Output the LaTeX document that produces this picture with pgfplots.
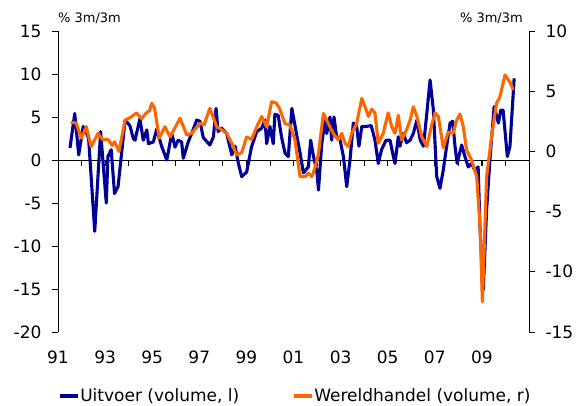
\documentclass[border=0pt]{standalone}
\usepackage{pgfplots}
\pgfplotsset{compat=1.18}
\usepackage{fontspec}
\setmainfont{DejaVu Sans}
\definecolor{navy}{RGB}{0,0,153}
\definecolor{orng}{RGB}{255,102,0}
\begin{document}
\begin{tikzpicture}
\path[use as bounding box] (-58pt,-74pt) rectangle (521pt,332pt);
\begin{axis}[
  name=ax1,
  at={(0pt,0pt)}, anchor=south west,
  scale only axis, width=471pt, height=301pt,
  xmin=1991, xmax=2011, ymin=-20, ymax=15,
  axis x line*=middle, axis y line*=left,
  xtick={1992,...,2010}, xticklabels={},
  tick align=center, major tick length=6pt,
  every tick/.style={black, line width=0.8pt},
  xtick style={yshift=-3pt},
  ytick style={xshift=-3pt},
  ytick={-20,-15,...,15},
  yticklabels={-20,-15,-10,-5,0,5,10,15},
  axis line style={black, line width=0.9pt},
  tick label style={font=\fontsize{17}{19}\selectfont},
  yticklabel style={anchor=east, xshift=-10pt},
]
\addplot[ycomb, black, line width=0.8pt, mark=none] coordinates {
(1992,-0.7) (1993,-0.7) (1994,-0.7) (1995,-0.7) (1996,-0.7) (1997,-0.7) (1998,-0.7)
(1999,-0.7) (2000,-0.7) (2001,-0.7) (2002,-0.7) (2003,-0.7) (2004,-0.7) (2005,-0.7)
(2006,-0.7) (2007,-0.7) (2008,-0.7) (2009,-0.7) (2010,-0.7)
};
\addplot[navy, line width=3.1pt, line join=round] coordinates {
(1991.51,1.4) (1991.71,5.4) (1991.88,0.6) (1992.07,3.9) (1992.22,3.1) (1992.30,2.5)
(1992.56,-8.3) (1992.81,3.3) (1993.05,-5.0) (1993.12,0.4) (1993.26,1.2) (1993.40,-3.9)
(1993.55,-3.1) (1993.85,4.65) (1994.05,4.0) (1994.20,2.5) (1994.27,2.3) (1994.48,4.8)
(1994.62,2.3) (1994.77,3.5) (1994.84,1.9) (1995.05,2.1) (1995.19,3.6) (1995.40,1.6)
(1995.62,0.0) (1995.83,3.1) (1995.97,1.5) (1996.10,2.3) (1996.25,2.1) (1996.32,0.2)
(1996.53,2.1) (1996.68,3.1) (1996.89,4.65) (1997.03,4.5) (1997.17,2.6) (1997.45,1.74)
(1997.60,2.7) (1997.71,6.0) (1997.80,3.3) (1997.95,3.7) (1998.16,3.1) (1998.38,0.6)
(1998.52,1.6) (1998.66,-0.4) (1998.80,-1.94) (1999.01,-1.4) (1999.22,1.55) (1999.44,3.3)
(1999.65,3.7) (1999.79,4.65) (1999.86,1.9) (2000.00,3.9) (2000.14,1.9) (2000.21,5.3)
(2000.35,5.2) (2000.49,2.7) (2000.64,0.8) (2000.78,0.4) (2000.93,6.0) (2001.13,3.0)
(2001.28,0.8) (2001.42,-1.5) (2001.63,-0.8) (2001.73,2.3) (2001.85,0.4) (2001.99,-1.3)
(2002.06,-3.5) (2002.20,1.9) (2002.34,4.65) (2002.41,3.1) (2002.55,5.0) (2002.62,2.3)
(2002.72,5.0) (2002.83,2.7) (2002.98,2.3) (2003.12,0.4) (2003.26,-3.1) (2003.40,0.0)
(2003.54,4.3) (2003.68,3.9) (2003.78,1.6) (2003.90,3.9) (2004.10,3.9) (2004.30,4.0)
(2004.46,2.3) (2004.60,-0.4) (2004.74,1.2) (2004.93,2.3) (2005.10,2.3) (2005.21,0.8)
(2005.31,-0.4) (2005.45,2.7) (2005.52,1.6) (2005.66,3.1) (2005.80,2.0) (2005.95,2.3)
(2006.09,3.1) (2006.24,4.65) (2006.38,2.3) (2006.52,1.6) (2006.66,5.4) (2006.80,9.3)
(2006.94,5.8) (2007.08,-1.9) (2007.22,-3.3) (2007.36,-1.16) (2007.50,1.55) (2007.65,4.3)
(2007.76,4.5) (2007.86,1.55) (2007.95,-0.4) (2008.14,1.74) (2008.28,0.4) (2008.42,-0.8)
(2008.56,-0.4) (2008.70,-1.2) (2008.84,-0.8) (2008.92,-7.8) (2009.06,-15.1) (2009.20,-5.8)
(2009.34,0.0) (2009.52,6.2) (2009.70,4.3) (2009.80,5.8) (2009.90,5.8) (2010.08,0.4)
(2010.19,1.55) (2010.37,9.5)
};
\end{axis}
\begin{axis}[
  name=ax2,
  at={(0pt,0pt)}, anchor=south west,
  scale only axis, width=471pt, height=301pt,
  xmin=1991, xmax=2011, ymin=-15, ymax=10,
  axis x line*=bottom, axis y line*=right,
  x axis line style={draw=none},
  xtick={1991,1993,...,2009},
  xticklabels={91,93,95,97,99,01,03,05,07,09},
  tick align=center, major tick length=6pt,
  every tick/.style={black, line width=0.8pt},
  xtick style={draw=none},
  ytick style={xshift=3pt},
  ytick={-15,-10,...,10},
  yticklabels={-15,-10,-5,0,5,10},
  y axis line style={black, line width=0.9pt},
  tick label style={font=\fontsize{17}{19}\selectfont},
  yticklabel style={anchor=west, xshift=10pt},
  xticklabel style={yshift=-12pt},
  legend style={at={(rel axis cs:0,0)}, anchor=west, yshift=-64pt, draw=none, fill=none,
    inner sep=0pt, legend columns=2, font=\fontsize{17}{19}\selectfont,
    /tikz/every even column/.append style={column sep=52pt},
    nodes={inner sep=1pt}},
  legend image code/.code={\draw[#1] (0pt,0pt) -- (18pt,0pt);},
]
\addlegendimage{navy, line width=3.1pt}
\addlegendentry{Uitvoer (volume, l)}
\addplot[orng, line width=3.1pt, line join=round] coordinates {
(1991.54,2.4) (1991.70,2.4) (1991.78,2.3) (1991.99,1.1) (1992.20,2.05) (1992.41,0.4)
(1992.70,1.5) (1992.91,0.95) (1993.12,1.0) (1993.30,0.5) (1993.40,0.8) (1993.59,0.0)
(1993.85,2.6) (1994.06,2.8) (1994.34,3.2) (1994.55,2.7) (1994.75,3.2) (1994.89,3.4)
(1994.98,4.0) (1995.10,3.6) (1995.30,1.1) (1995.54,2.05) (1995.76,1.2) (1996.18,2.75)
(1996.47,1.36) (1996.68,1.5) (1997.03,2.33) (1997.20,2.2) (1997.45,3.58) (1997.74,2.05)
(1997.95,1.8) (1998.16,1.5) (1998.38,0.67) (1998.59,-0.3) (1998.80,-0.1) (1999.01,1.2)
(1999.22,1.0) (1999.44,2.05) (1999.65,2.9) (1999.86,2.05) (2000.07,4.13) (2000.28,4.0)
(2000.42,3.5) (2000.64,2.3) (2000.85,2.2) (2001.06,1.0) (2001.28,-2.1) (2001.50,-2.1)
(2001.63,-1.8) (2001.78,-2.1) (2001.92,-1.3) (2002.06,-0.2) (2002.27,3.16) (2002.48,2.3)
(2002.69,1.5) (2002.90,0.95) (2003.05,1.5) (2003.19,0.67) (2003.33,0.4) (2003.47,1.5)
(2003.68,2.3) (2003.90,4.4) (2004.04,3.7) (2004.18,2.9) (2004.32,3.5) (2004.46,3.2)
(2004.60,0.67) (2004.81,1.5) (2005.02,3.2) (2005.17,2.05) (2005.31,1.5) (2005.45,3.0)
(2005.59,0.95) (2005.80,1.8) (2005.95,2.6) (2006.09,3.7) (2006.24,2.9) (2006.45,1.2)
(2006.66,0.4) (2006.87,2.2) (2007.01,3.2) (2007.15,2.9) (2007.36,0.3) (2007.57,1.6)
(2007.78,1.5) (2007.93,2.6) (2008.07,3.1) (2008.21,2.05) (2008.35,0.1) (2008.56,-0.7)
(2008.78,-2.1) (2008.92,-6.2) (2009.02,-12.5) (2009.20,-2.1) (2009.41,1.2) (2009.62,4.0)
(2009.76,4.5) (2009.98,6.35) (2010.19,5.75) (2010.33,5.1)
};
\addlegendentry{Wereldhandel (volume, r)}
\end{axis}
\node[anchor=base west, font=\fontsize{13}{15}\selectfont, inner sep=0pt] at ([yshift=8pt]ax1.north west) {\% 3m/3m};
\node[anchor=base east, font=\fontsize{13}{15}\selectfont, inner sep=0pt] at ([yshift=8pt, xshift=-6pt]ax2.north east) {\% 3m/3m};
\end{tikzpicture}
\end{document}
